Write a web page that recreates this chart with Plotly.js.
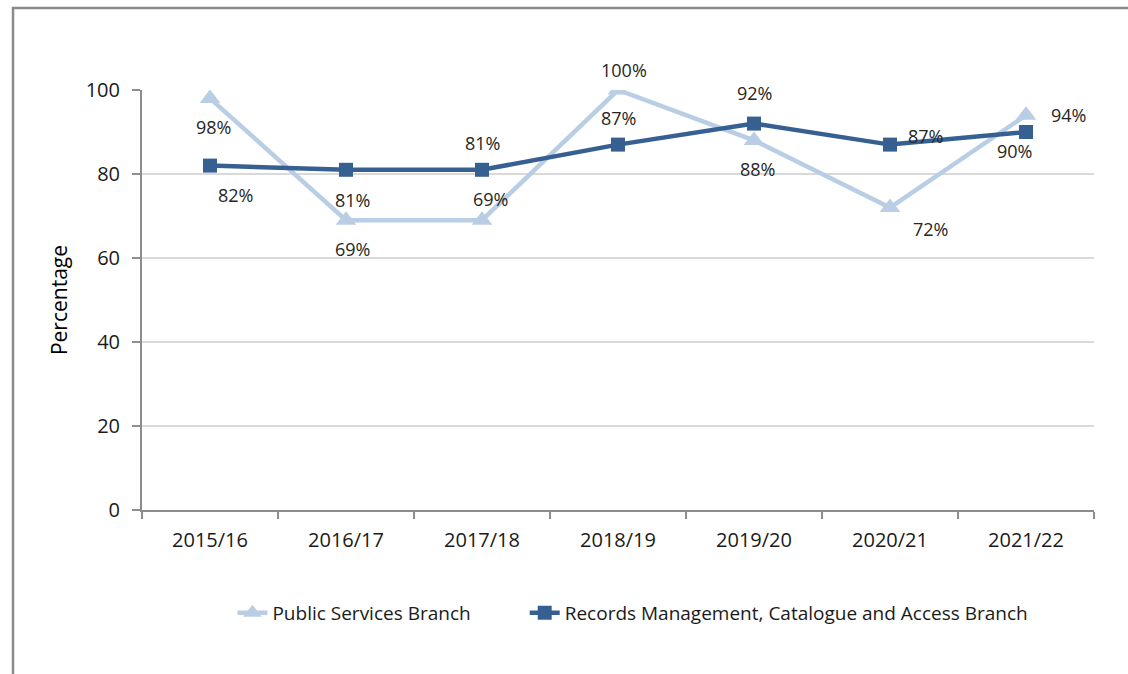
<!DOCTYPE html>
<html>
<head>
<meta charset="utf-8">
<script src="https://cdn.plot.ly/plotly-3.0.1.min.js"></script>
<style>
  html, body { margin: 0; padding: 0; background: #fff; }
  #chart { width: 1128px; height: 674px; }
</style>
</head>
<body>
<div id="chart"></div>
<script>
// ---- data ----
const years = ["2015/16", "2016/17", "2017/18", "2018/19", "2019/20", "2020/21", "2021/22"];
const publicServices = [98, 69, 69, 100, 88, 72, 94];
const recordsManagement = [82, 81, 81, 87, 92, 87, 90];
const seriesNames = ["Public Services Branch", "Records Management, Catalogue and Access Branch"];
const yTicks = [0, 20, 40, 60, 80, 100];

// ---- label placement (pixel offsets from each point: [dx, dy up]) ----
const publicLabelOffsets = [[3, -29], [6, -29], [8, 21], [6, 20], [3, -29], [40, -21], [42, 0]];
const recordsLabelOffsets = [[25, -29], [6, -30], [0, 27], [0, 27], [0, 31], [35, 9], [-12, -19]];

const lightBlue = "#B9CDE5";
const darkBlue = "#376092";
const FONT = "'Open Sans', sans-serif";

const traces = [
  {
    x: years, y: publicServices, name: seriesNames[0],
    type: "scatter", mode: "lines+markers", legend: "legend",
    line: { color: lightBlue, width: 4.5 },
    marker: { symbol: "triangle-up", size: 18, color: lightBlue }
  },
  {
    x: years, y: recordsManagement, name: seriesNames[1],
    type: "scatter", mode: "lines+markers", legend: "legend2",
    line: { color: darkBlue, width: 4.5 },
    marker: { symbol: "square", size: 14, color: darkBlue }
  }
];

const annotations = [];
function addLabels(values, offsets) {
  values.forEach((v, i) => {
    annotations.push({
      x: years[i], y: v, xref: "x", yref: "y",
      text: v + "%", showarrow: false,
      xshift: offsets[i][0], yshift: offsets[i][1],
      font: { family: FONT, size: 18, color: "#262626" }
    });
  });
}
addLabels(publicServices, publicLabelOffsets);
addLabels(recordsManagement, recordsLabelOffsets);

const legendFont = { family: FONT, size: 19, color: "#1a1a1a" };

const layout = {
  width: 1128, height: 674,
  margin: { l: 142, r: 34, t: 90, b: 164 },
  paper_bgcolor: "#fff", plot_bgcolor: "#fff",
  font: { family: FONT, size: 18, color: "#1a1a1a" },
  showlegend: true,
  legend: {
    orientation: "h", x: 0.095, xanchor: "left", y: -0.245, yanchor: "middle",
    font: legendFont, bgcolor: "rgba(0,0,0,0)"
  },
  legend2: {
    orientation: "h", x: 0.402, xanchor: "left", y: -0.245, yanchor: "middle",
    font: legendFont, bgcolor: "rgba(0,0,0,0)"
  },
  xaxis: {
    type: "category", range: [-0.5, 6.5],
    showline: true, linecolor: "#8c8c8c", linewidth: 2,
    ticks: "outside", tickson: "boundaries", ticklen: 7, tickcolor: "#8c8c8c", tickwidth: 2,
    showgrid: false, zeroline: false,
    tickfont: { family: FONT, size: 20, color: "#1a1a1a" },
    ticklabelstandoff: 11
  },
  yaxis: {
    range: [0, 100], tickvals: yTicks, ticktext: yTicks.map(String),
    showline: true, linecolor: "#8c8c8c", linewidth: 2,
    ticks: "outside", ticklen: 8, tickcolor: "#8c8c8c", tickwidth: 2,
    showgrid: true, gridcolor: "#d9d9d9", gridwidth: 2, zeroline: false,
    tickfont: { family: FONT, size: 20, color: "#1a1a1a" },
    ticklabelstandoff: 8,
    title: { text: "Percentage", font: { family: FONT, size: 21, color: "#000" }, standoff: 12 }
  },
  annotations: annotations,
  shapes: [{
    type: "rect", xref: "paper", yref: "paper",
    x0: -0.1355, x1: 1.06, y0: -0.46, y1: 1.1952,
    line: { color: "#8a8a8a", width: 2.5 }, fillcolor: "rgba(0,0,0,0)", layer: "below"
  }]
};

Plotly.newPlot("chart", traces, layout, { displayModeBar: false, staticPlot: true });
</script>
</body>
</html>
